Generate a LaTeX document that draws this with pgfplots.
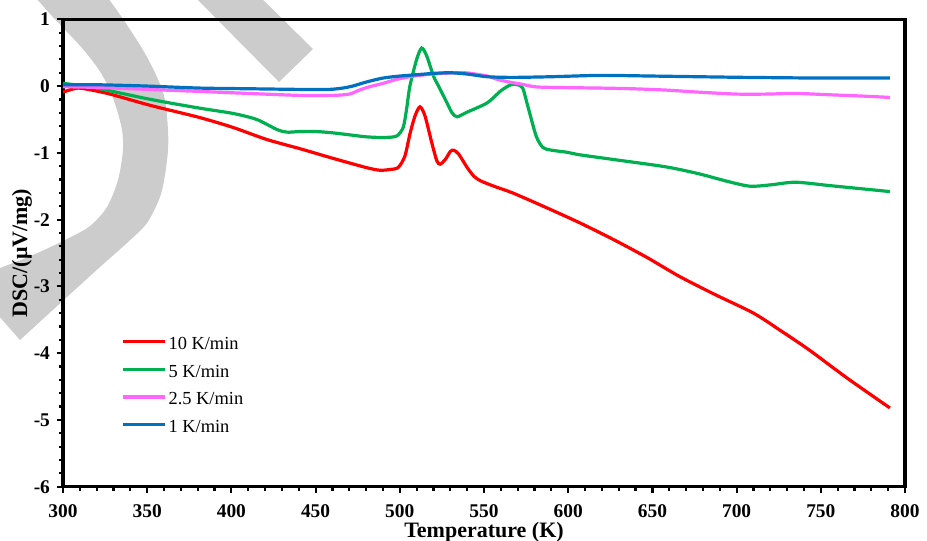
\documentclass[border=0pt]{standalone}
\usepackage{pgfplots}
\pgfplotsset{compat=1.18}
\usepackage{fontspec}
\setmainfont{Liberation Serif}

\definecolor{rate10}{RGB}{255,0,0}
\definecolor{rate5}{RGB}{0,176,80}
\definecolor{rate25}{RGB}{255,102,255}
\definecolor{rate1}{RGB}{0,112,192}

\begin{document}
\begin{tikzpicture}
\useasboundingbox (0pt,0pt) rectangle (463.5pt,-270.5pt);

% light grey ribbons in the upper left corner, behind the plot
\begin{scope}[x=0.5pt,y=-0.5pt]
  \clip (0,0) rectangle (927,541);
  \fill[black!20]
    plot[smooth] coordinates {(108,-2) (123,19) (143,50) (157,77) (165,100) (168,130) (168,150) (165,175) (160,197) (147,223) (127,243) (100,267) (67,297) (20,340)}
    -- (-10,306) -- (-10,272)
    -- plot[smooth] coordinates {(0,268) (33,255) (67,239) (90,226) (107,207) (118,180) (123,150) (122,130) (117,110) (110,90) (99,70) (82,48) (52,16) (36,-2)}
    -- cycle;
  \fill[black!20] (188,-10) -- (279,82) -- (313,49) -- (253,-10) -- cycle;
\end{scope}

\begin{axis}[
  at={(31.5pt,-9.65pt)}, anchor=north west,
  scale only axis, width=421pt, height=233.7pt,
  xmin=300, xmax=800, ymin=-6, ymax=1,
  xtick={300,350,...,800}, ytick={-6,-5,...,1},
  minor x tick num=4, minor y tick num=4,
  tick align=outside, xtick pos=bottom, ytick pos=left,
  major tick length=3pt, minor tick length=2pt,
  every tick/.append style={black, line width=1.1pt},
  axis line style={line width=1.6pt},
  ticklabel style={font=\bfseries\fontsize{9.7}{11}\selectfont},
  xticklabel style={yshift=-2.3pt},
  /pgf/number format/assume math mode=true,
  xlabel={Temperature (K)},
  ylabel={DSC/(μV/mg)},
  every axis x label/.style={at={(axis description cs:0.5,-0.0965)}, anchor=center, font=\bfseries\fontsize{11}{13}\selectfont},
  every axis y label/.style={at={(axis description cs:-0.0487,0.5)}, rotate=90, anchor=center, font=\bfseries\fontsize{11}{13}\selectfont},
  legend cell align=left,
  legend style={at={(axis description cs:0.0689,0.3267)}, anchor=north west, draw=none, fill=none,
    font=\fontsize{9.2}{11}\selectfont, inner sep=0pt, row sep=3.35pt,
    nodes={inner sep=1pt, text height=6.5pt, text depth=2pt}},
  legend image code/.code={\draw[#1] (0pt,1.6pt) -- (21pt,1.6pt);},
  every axis plot/.append style={line width=1.6pt, smooth, tension=0.45},
]

% 10 K/min
\addplot[rate10] coordinates {
(300,-0.09) (305,-0.05) (309,-0.03) (315,-0.05) (328,-0.12) (352,-0.29)
(381,-0.47) (401,-0.62) (421,-0.80) (441,-0.94) (460,-1.08) (480,-1.22)
(488,-1.26) (494,-1.25) (499,-1.22) (503,-1.05) (506,-0.72) (509,-0.45)
(512,-0.31) (515,-0.45) (519,-0.85) (522,-1.12) (524,-1.17) (527,-1.10)
(530,-0.98) (532,-0.96) (535,-1.02) (540,-1.22) (544,-1.35) (548,-1.42)
(557,-1.51) (567,-1.60) (587,-1.82) (607,-2.05) (627,-2.30) (647,-2.57)
(666,-2.85) (687,-3.12) (710,-3.40) (726,-3.66) (743,-3.95) (766,-4.38)
(791,-4.82)
};
\addlegendentry{10 K/min}

% 5 K/min
\addplot[rate5] coordinates {
(300,0.04) (310,0.01) (322,-0.04) (352,-0.20) (381,-0.33) (401,-0.41)
(415,-0.50) (427,-0.65) (433,-0.69) (441,-0.68) (450,-0.68) (460,-0.70)
(470,-0.73) (480,-0.76) (490,-0.77) (498,-0.75) (502,-0.62) (504,-0.35)
(506,0.00) (510,0.40) (513,0.57) (516,0.45) (520,0.15) (523,0.00)
(528,-0.25) (531,-0.40) (534,-0.46) (540,-0.39) (552,-0.25) (560,-0.07)
(566,0.02) (570,0.02) (573,-0.03) (576,-0.30) (581,-0.75) (585,-0.92)
(590,-0.96) (599,-0.99) (607,-1.03) (627,-1.10) (658,-1.21) (677,-1.31)
(695,-1.43) (708,-1.50) (720,-1.48) (735,-1.44) (755,-1.49) (775,-1.54)
(791,-1.58)
};
\addlegendentry{5 K/min}

% 2.5 K/min
\addplot[rate25] coordinates {
(300,-0.01) (320,-0.02) (350,-0.05) (381,-0.08) (410,-0.11) (441,-0.14)
(460,-0.14) (470,-0.12) (476,-0.06) (482,-0.01) (490,0.04) (498,0.10)
(506,0.14) (515,0.17) (525,0.19) (538,0.20) (545,0.18) (552,0.15)
(558,0.10) (565,0.06) (572,0.03) (580,-0.01) (590,-0.02) (619,-0.03)
(638,-0.04) (658,-0.06) (677,-0.09) (700,-0.12) (718,-0.12) (735,-0.11)
(755,-0.13) (775,-0.15) (791,-0.17)
};
\addlegendentry{2.5 K/min}

% 1 K/min
\addplot[rate1] coordinates {
(300,0.02) (320,0.02) (350,0.00) (381,-0.03) (410,-0.04) (441,-0.05)
(458,-0.05) (466,-0.03) (472,0.00) (480,0.06) (490,0.12) (500,0.15)
(510,0.17) (520,0.19) (530,0.20) (540,0.18) (552,0.14) (567,0.13)
(590,0.14) (619,0.16) (650,0.15) (677,0.14) (706,0.13) (750,0.12)
(791,0.12)
};
\addlegendentry{1 K/min}

\end{axis}
\end{tikzpicture}
\end{document}
